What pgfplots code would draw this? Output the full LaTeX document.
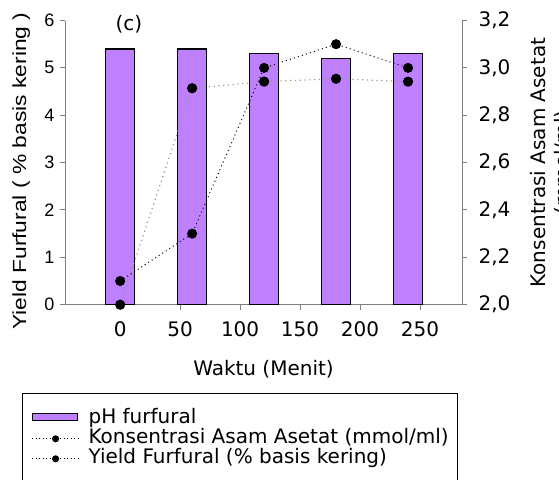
\documentclass[border=0pt]{standalone}
\usepackage{fontspec}
\setmainfont{DejaVu Sans}
\newfontfamily\arialfont{Liberation Sans}
\usepackage{pgfplots}
\pgfplotsset{compat=1.18}
\definecolor{barpurple}{RGB}{191,128,255}
\definecolor{axgray}{RGB}{128,128,128}
\definecolor{dotgray}{RGB}{150,150,150}
\newcommand{\vfs}{\fontsize{20}{24}\selectfont}
\begin{document}
\begin{tikzpicture}
\useasboundingbox (0pt,0pt) rectangle (559pt,-479pt);
\begin{axis}[
  at={(65pt,-304.7pt)}, anchor=south west,
  width=397pt, height=284.2pt, scale only axis,
  xmin=-46, xmax=285, ymin=0, ymax=6,
  axis x line*=bottom, axis y line*=left,
  axis line style={axgray, line width=1pt, -},
  tick style={axgray, line width=1pt},
  tick align=outside, major tick length=5pt,
  xtick={0,50,...,250}, ytick={0,1,2,3,4,5,6},
  /pgf/number format/assume math mode=true,
  xticklabel style={font=\vfs, yshift=-8pt},
  yticklabel style={font=\arialfont\fontsize{18}{21}\selectfont, xshift=-2pt},
  xlabel={Waktu (Menit)},
  xlabel style={font=\vfs, at={(axis description cs:0.5,-0.2474)}, anchor=base},
  ylabel={Yield Furfural ( \% basis kering )},
  ylabel style={font=\arialfont\fontsize{19}{22}\selectfont, at={(axis description cs:-0.098,0.47)}, anchor=base, xscale=1.2},
  clip=false,
  legend cell align=left,
  legend style={at={(axis description cs:-0.1083,-0.3117)}, anchor=north west,
    draw=black, line width=1pt, fill=white, font=\vfs,
    inner xsep=9pt, inner ysep=15pt, row sep=0pt, column sep=9pt,
    nodes={inner sep=0pt, text height=14.5pt, text depth=5.5pt}},
]
\addplot[forget plot, ybar, bar width=24, fill=barpurple, draw=black, line width=1.3pt]
  coordinates {(0,5.4) (60,5.4) (120,5.3) (180,5.2) (240,5.3)};
\addplot[forget plot, color=dotgray, line width=1.2pt, dash pattern=on 1.2pt off 3.6pt,
  mark=*, mark size=4.5pt, mark options={solid, fill=black, draw=black}]
  coordinates {(0,0) (60,4.57) (120,4.71) (180,4.77) (240,4.71)};
\node[font=\vfs] at (axis description cs:0.161,0.988) {(c)};
\addlegendimage{legend image code/.code={\draw[black, line width=1.2pt, fill=barpurple] (0pt,-2pt) rectangle (45pt,5pt);}}
\addlegendentry{pH furfural}
\addlegendimage{legend image code/.code={\draw[black, line width=0.9pt, dash pattern=on 0.9pt off 2.6pt] (0pt,0pt) -- (47pt,0pt); \fill[black] (23.5pt,0pt) circle (3pt);}}
\addlegendentry{Konsentrasi Asam Asetat (mmol/ml)}
\addlegendimage{legend image code/.code={\draw[black, line width=0.9pt, dash pattern=on 0.9pt off 2.6pt] (0pt,0pt) -- (47pt,0pt); \fill[black] (23.5pt,0pt) circle (3pt);}}
\addlegendentry{Yield Furfural (\% basis kering)}
\end{axis}
\begin{axis}[
  at={(65pt,-304.7pt)}, anchor=south west,
  width=397pt, height=284.2pt, scale only axis,
  xmin=-46, xmax=285, ymin=2, ymax=3.2,
  axis y line*=right, axis x line*=bottom,
  x axis line style={draw=none}, xtick=\empty,
  y axis line style={axgray, line width=1pt, -},
  tick style={axgray, line width=1pt},
  tick align=outside, major tick length=5pt,
  ytick={2,2.2,2.4,2.6,2.8,3,3.2},
  /pgf/number format/assume math mode=true,
  yticklabel style={font=\vfs, xshift=8pt, /pgf/number format/.cd, fixed, fixed zerofill, precision=1, use comma},
  ylabel={Konsentrasi Asam Asetat\\(mmol/ml)},
  ylabel style={font=\vfs, align=center, at={(axis description cs:1.172,0.5)}, anchor=north, inner sep=0pt},
  clip=false,
]
\addplot[color=black, line width=1pt, dash pattern=on 1pt off 3.2pt,
  mark=*, mark size=4.5pt, mark options={solid, fill=black, draw=black}]
  coordinates {(0,2.1) (60,2.3) (120,3.0) (180,3.1) (240,3.0)};
\draw[axgray, line width=1pt] (rel axis cs:1,0) -- (rel axis cs:1,1);
\end{axis}
\end{tikzpicture}
\end{document}
